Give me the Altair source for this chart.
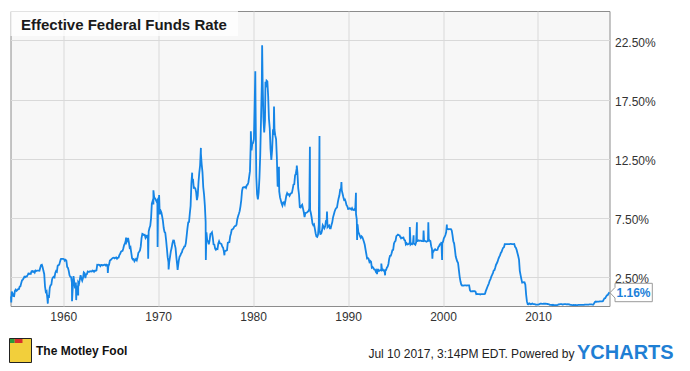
import altair as alt
import pandas as pd

# Monthly effective federal funds rate (%), starting July 1954
rates_1950s = [0.80, 1.22, 1.07, 0.85, 0.83, 1.28,
               1.39, 1.29, 1.35, 1.43, 1.43, 1.64, 1.68, 1.96, 2.18, 2.24, 2.35, 2.48,
               2.45, 2.50, 2.50, 2.62, 2.75, 2.71, 2.75, 2.73, 2.95, 2.96, 2.88, 2.94,
               2.84, 3.00, 2.96, 3.00, 3.00, 3.00, 2.99, 3.24, 3.47, 3.50, 3.28, 2.98,
               2.72, 1.67, 1.20, 1.26, 0.63, 0.93, 0.68, 1.53, 1.76, 1.80, 2.27, 2.42,
               2.48, 2.43, 2.80, 2.96, 2.90, 3.39, 3.47, 3.50, 3.76, 3.98, 4.00, 3.99]
rates_1960s = [3.99, 3.97, 3.84, 3.92, 3.85, 3.32, 3.23, 2.98, 2.60, 2.47, 2.44, 1.98,
               1.45, 2.54, 2.02, 1.49, 1.98, 1.73, 1.17, 2.00, 1.88, 2.26, 2.61, 2.33,
               2.15, 2.37, 2.85, 2.78, 2.36, 2.68, 2.71, 2.93, 2.90, 2.90, 2.94, 2.93,
               2.92, 3.00, 2.98, 2.90, 3.00, 2.99, 3.02, 3.49, 3.48, 3.50, 3.48, 3.38,
               3.48, 3.48, 3.43, 3.47, 3.50, 3.50, 3.42, 3.50, 3.45, 3.36, 3.52, 3.85,
               3.90, 3.98, 4.04, 4.09, 4.10, 4.04, 4.09, 4.12, 4.01, 4.08, 4.10, 4.32,
               4.42, 4.60, 4.65, 4.67, 4.90, 5.17, 5.30, 5.53, 5.40, 5.53, 5.76, 5.40,
               4.94, 5.00, 4.53, 4.05, 3.94, 3.98, 3.79, 3.90, 3.99, 3.88, 4.12, 4.51,
               4.60, 4.71, 5.05, 5.76, 6.11, 6.07, 6.02, 6.03, 5.78, 5.91, 5.82, 6.02,
               6.30, 6.61, 6.79, 7.41, 8.67, 8.90, 8.61, 9.19, 9.15, 9.00, 8.85, 8.97]
rates_1970s = [8.98, 8.98, 7.76, 8.10, 7.95, 7.61, 7.21, 6.61, 6.29, 6.20, 5.60, 4.90,
               4.14, 3.72, 3.71, 4.16, 4.63, 4.91, 5.31, 5.56, 5.55, 5.20, 4.91, 4.14,
               3.50, 3.29, 3.83, 4.17, 4.27, 4.46, 4.55, 4.80, 4.87, 5.04, 5.06, 5.33,
               5.94, 6.58, 7.09, 7.12, 7.84, 8.49, 10.40, 10.50, 10.78, 10.01, 10.03, 9.95,
               9.65, 8.97, 9.35, 10.51, 11.31, 11.93, 12.92, 12.01, 11.34, 10.06, 9.45, 8.53,
               7.13, 6.24, 5.54, 5.49, 5.22, 5.55, 6.10, 6.14, 6.24, 5.82, 5.22, 5.20,
               4.87, 4.77, 4.84, 4.82, 5.29, 5.48, 5.31, 5.29, 5.25, 5.03, 4.95, 4.65,
               4.61, 4.68, 4.69, 4.73, 5.35, 5.39, 5.42, 5.90, 6.14, 6.47, 6.51, 6.56,
               6.70, 6.78, 6.79, 6.89, 7.36, 7.60, 7.81, 8.04, 8.45, 8.96, 9.76, 10.03,
               10.07, 10.06, 10.09, 10.01, 10.24, 10.29, 10.47, 10.94, 11.43, 13.77, 13.18, 13.78]
rates_1980s = [13.82, 14.13, 17.19, 17.61, 10.98, 9.47, 9.03, 9.61, 10.87, 12.81, 15.85, 18.90,
               19.08, 15.93, 14.70, 15.72, 18.52, 19.10, 19.04, 17.82, 15.87, 15.08, 13.31, 12.37,
               13.22, 14.78, 14.68, 14.94, 14.45, 14.15, 12.59, 10.12, 10.31, 9.71, 9.20, 8.95,
               8.68, 8.51, 8.77, 8.80, 8.63, 8.98, 9.37, 9.56, 9.45, 9.48, 9.34, 9.47,
               9.56, 9.59, 9.91, 10.29, 10.32, 11.06, 11.23, 11.64, 11.30, 9.99, 9.43, 8.38,
               8.35, 8.50, 8.58, 8.27, 7.97, 7.53, 7.88, 7.90, 7.92, 7.99, 8.05, 8.27,
               8.14, 7.86, 7.48, 6.99, 6.85, 6.92, 6.56, 6.17, 5.89, 5.85, 6.04, 6.91,
               6.43, 6.10, 6.13, 6.37, 6.85, 6.73, 6.58, 6.73, 7.22, 7.29, 6.69, 6.77,
               6.83, 6.58, 6.58, 6.87, 7.09, 7.51, 7.75, 8.01, 8.19, 8.30, 8.35, 8.76,
               9.12, 9.36, 9.85, 9.84, 9.81, 9.53, 9.24, 8.99, 9.02, 8.84, 8.55, 8.45]
rates_1990s = [8.23, 8.24, 8.28, 8.26, 8.18, 8.29, 8.15, 8.13, 8.20, 8.11, 7.81, 7.31,
               6.91, 6.25, 6.12, 5.91, 5.78, 5.90, 5.82, 5.66, 5.45, 5.21, 4.81, 4.43,
               4.03, 4.06, 3.98, 3.73, 3.82, 3.76, 3.25, 3.30, 3.22, 3.10, 3.09, 2.92,
               3.02, 3.03, 3.07, 2.96, 3.00, 3.04, 3.06, 3.03, 3.09, 2.99, 3.02, 2.96,
               3.05, 3.25, 3.34, 3.56, 4.01, 4.25, 4.26, 4.47, 4.73, 4.76, 5.29, 5.45,
               5.53, 5.92, 5.98, 6.05, 6.01, 6.00, 5.85, 5.74, 5.80, 5.76, 5.80, 5.60,
               5.56, 5.22, 5.31, 5.22, 5.24, 5.27, 5.40, 5.22, 5.30, 5.24, 5.31, 5.29,
               5.25, 5.19, 5.39, 5.51, 5.50, 5.56, 5.52, 5.54, 5.54, 5.50, 5.52, 5.50,
               5.56, 5.51, 5.49, 5.45, 5.49, 5.56, 5.54, 5.55, 5.51, 5.07, 4.83, 4.68,
               4.63, 4.76, 4.81, 4.74, 4.74, 4.76, 4.99, 5.07, 5.22, 5.20, 5.42, 5.30]
rates_2000s = [5.45, 5.73, 5.85, 6.02, 6.27, 6.53, 6.54, 6.50, 6.52, 6.51, 6.51, 6.40,
               5.98, 5.49, 5.31, 4.80, 4.21, 3.97, 3.77, 3.65, 3.07, 2.49, 2.09, 1.82,
               1.73, 1.74, 1.73, 1.75, 1.75, 1.75, 1.73, 1.74, 1.75, 1.75, 1.34, 1.24,
               1.24, 1.26, 1.25, 1.26, 1.26, 1.22, 1.01, 1.03, 1.01, 1.01, 1.00, 0.98,
               1.00, 1.01, 1.00, 1.00, 1.00, 1.03, 1.26, 1.43, 1.61, 1.76, 1.93, 2.16,
               2.28, 2.50, 2.63, 2.79, 3.00, 3.04, 3.26, 3.50, 3.62, 3.78, 4.00, 4.16,
               4.29, 4.49, 4.59, 4.79, 4.94, 4.99, 5.24, 5.25, 5.25, 5.25, 5.25, 5.24,
               5.25, 5.26, 5.26, 5.25, 5.25, 5.25, 5.26, 5.02, 4.94, 4.76, 4.49, 4.24,
               3.94, 2.98, 2.61, 2.28, 1.98, 2.00, 2.01, 2.00, 1.81, 0.97, 0.39, 0.16,
               0.15, 0.22, 0.18, 0.15, 0.18, 0.21, 0.16, 0.16, 0.15, 0.12, 0.12, 0.12]
rates_2010s = [0.11, 0.13, 0.16, 0.20, 0.20, 0.18, 0.18, 0.19, 0.19, 0.19, 0.19, 0.18,
               0.17, 0.16, 0.14, 0.10, 0.09, 0.09, 0.07, 0.10, 0.08, 0.07, 0.08, 0.07,
               0.08, 0.10, 0.13, 0.14, 0.16, 0.16, 0.16, 0.13, 0.14, 0.16, 0.16, 0.16,
               0.14, 0.15, 0.14, 0.15, 0.11, 0.09, 0.09, 0.08, 0.08, 0.09, 0.08, 0.09,
               0.07, 0.07, 0.08, 0.09, 0.09, 0.10, 0.09, 0.09, 0.09, 0.09, 0.09, 0.12,
               0.11, 0.11, 0.11, 0.12, 0.12, 0.13, 0.13, 0.14, 0.14, 0.12, 0.12, 0.24,
               0.34, 0.38, 0.36, 0.37, 0.37, 0.38, 0.39, 0.40, 0.40, 0.40, 0.41, 0.54,
               0.65, 0.66, 0.79, 0.90, 0.91, 1.04]

# Short-lived weekly spikes visible in the chart (decimal year, %)
spike_years = [1954.53, 1958.38, 1960.93, 1961.37, 1961.58, 1964.70, 1966.62, 1968.95,
               1969.50, 1969.94, 1970.10, 1971.10, 1972.05, 1973.58, 1974.50, 1975.02,
               1976.98, 1979.76, 1980.23, 1980.95, 1981.30, 1982.20, 1982.72, 1984.60,
               1985.98, 1986.99, 1987.78, 1989.30, 1990.83, 1990.95, 1993.05, 1993.50,
               1993.90, 1996.50, 1996.90, 1997.25, 1997.95, 1998.45, 1998.88, 1999.90,
               2000.40]
spike_values = [0.30, 0.20, 0.40, 0.50, 0.90, 2.80, 5.80, 4.00,
                9.80, 5.00, 9.40, 3.10, 3.05, 11.30, 13.40, 3.90,
                4.30, 14.80, 19.90, 22.10, 19.00, 16.90, 11.80, 11.90,
                13.50, 14.40, 8.00, 10.50, 9.60, 5.60, 2.70, 3.60,
                2.60, 6.70, 6.00, 7.10, 6.40, 7.10, 4.00, 3.90,
                6.90]

last_year = 2017.52
last_value = 1.16

y_ticks = [2.5, 7.5, 12.5, 17.5, 22.5]
x_ticks = [1960, 1970, 1980, 1990, 2000, 2010]
title_text = "Effective Federal Funds Rate"
footer_date = "Jul 10 2017, 3:14PM EDT.  Powered by"

monthly = rates_1950s + rates_1960s + rates_1970s + rates_1980s + rates_1990s + rates_2000s + rates_2010s
years = [1954 + (6 + i) / 12 for i in range(len(monthly))]
df = pd.DataFrame({
    "year": years + spike_years + [last_year],
    "rate": monthly + spike_values + [last_value],
}).sort_values("year")

FONT = "Liberation Sans, Arial, Helvetica, sans-serif"
BLUE = "#1585e6"
W, H = 599, 295

xs = alt.Scale(domain=[1954.45, 2017.53], nice=False, zero=False)
ys = alt.Scale(domain=[0, 25], nice=False)

line = alt.Chart(df).mark_line(color=BLUE, strokeWidth=1.8).encode(
    x=alt.X("year:Q", scale=xs,
            axis=alt.Axis(values=x_ticks, format="d", title=None, grid=True,
                          gridColor="#d9d9d9", ticks=False, domain=False,
                          labelFont=FONT, labelFontSize=12, labelColor="#333333",
                          labelPadding=5)),
    y=alt.Y("rate:Q", scale=ys,
            axis=alt.Axis(orient="right", values=y_ticks, title=None, grid=True,
                          gridColor="#d9d9d9", ticks=False, domain=False,
                          labelExpr="format(datum.value, '.2f') + '%'",
                          labelFont=FONT, labelFontSize=12, labelColor="#333333",
                          labelPadding=5, labelOffset=2)),
)

one = pd.DataFrame({"a": [0]})

title_box = alt.Chart(one).mark_rect(fill="white", opacity=0.75).encode(
    x=alt.value(0), x2=alt.value(227.5), y=alt.value(0), y2=alt.value(25))
title = alt.Chart(one).mark_text(text=title_text, font=FONT, fontSize=15, fontWeight="bold",
                                 align="left", baseline="alphabetic", color="#1a1a1a").encode(
    x=alt.value(10.5), y=alt.value(18.5))

# callout for the latest value
cb = dict(x0=604.5, x1=641.8, y0=272.3, y1=290.7, tip_x=599.5, tip_y=281.7, ca=276.5, cbm=287.0)
call_bg = alt.Chart(one).mark_rect(fill="white").encode(
    x=alt.value(cb["x0"]), x2=alt.value(cb["x1"]), y=alt.value(cb["y0"]), y2=alt.value(cb["y1"]))
segs = [
    (cb["x0"], cb["y0"], cb["x1"], cb["y0"]),
    (cb["x0"], cb["y1"], cb["x1"], cb["y1"]),
    (cb["x1"], cb["y0"], cb["x1"], cb["y1"]),
    (cb["x0"], cb["y0"], cb["x0"], cb["ca"]),
    (cb["x0"], cb["cbm"], cb["x0"], cb["y1"]),
    (cb["x0"], cb["ca"], cb["tip_x"], cb["tip_y"]),
    (cb["tip_x"], cb["tip_y"], cb["x0"], cb["cbm"]),
]
call_lines = [alt.Chart(one).mark_rule(color="#9a9a9a", strokeWidth=1).encode(
    x=alt.value(a), y=alt.value(b), x2=alt.value(c), y2=alt.value(d)) for a, b, c, d in segs]
call_text = alt.Chart(one).mark_text(text=f"{last_value:.2f}%", font=FONT, fontSize=12,
                                     fontWeight="bold", color="#1a80d9", align="center",
                                     baseline="middle").encode(
    x=alt.value(623), y=alt.value(282))

# footer
logo = alt.Chart(one).mark_rect(fill="#f2cf3b", stroke="#222222", strokeWidth=1).encode(
    x=alt.value(-1), x2=alt.value(21), y=alt.value(327.5), y2=alt.value(351.5))
logo_hat = alt.Chart(one).mark_rect(fill="#d8302c").encode(
    x=alt.value(4), x2=alt.value(12), y=alt.value(328), y2=alt.value(332))
logo_hat2 = alt.Chart(one).mark_rect(fill="#2a9d3b").encode(
    x=alt.value(-0.5), x2=alt.value(4), y=alt.value(328), y2=alt.value(332))
fool = alt.Chart(one).mark_text(text="The Motley Fool", font=FONT,
                                fontSize=12, fontWeight="bold", align="left", baseline="alphabetic",
                                color="#111111").encode(x=alt.value(25.5), y=alt.value(343.5))
stamp = alt.Chart(one).mark_text(text=footer_date, font=FONT, fontSize=12, align="right",
                                 baseline="alphabetic", color="#222222").encode(
    x=alt.value(564), y=alt.value(347))
ycharts = alt.Chart(one).mark_text(text="YCHARTS", font=FONT, fontSize=20, fontWeight="bold",
                                   align="left", baseline="alphabetic", color="#1f7fd4").encode(
    x=alt.value(566.5), y=alt.value(347.5))

chart = alt.layer(
    line, title_box, title, call_bg, *call_lines, call_text,
    logo, logo_hat, logo_hat2, fool, stamp, ycharts,
).properties(
    width=W, height=H,
    padding={"left": 2.5, "top": 3, "right": 72, "bottom": 57},
    autosize=alt.AutoSizeParams(type="none"),
    background="white",
).configure_view(
    fill="#f7f7f7", stroke="#8c8c8c", strokeWidth=1,
)

chart.save("out.html", embed_options={"renderer": "svg", "actions": False})
